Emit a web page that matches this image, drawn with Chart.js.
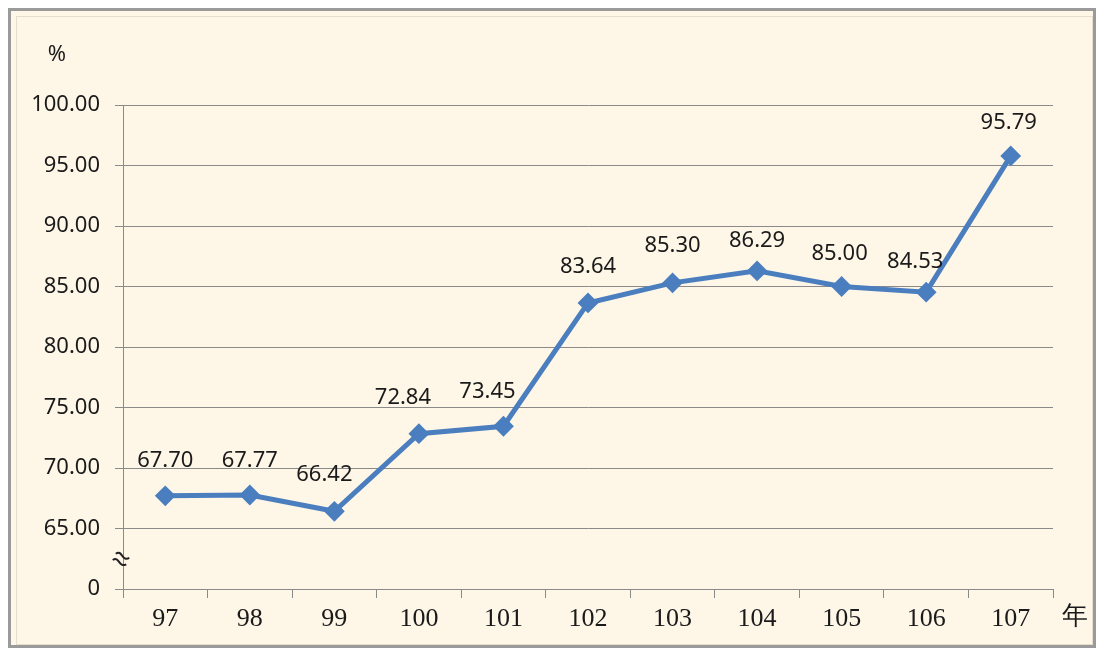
<!DOCTYPE html>
<html>
<head>
<meta charset="utf-8">
<script src="https://cdn.jsdelivr.net/npm/chart.js@4/dist/chart.umd.min.js"></script>
<style>
  body { margin: 0; background: #fff; }
  #chart { display: block; }
</style>
</head>
<body>
<canvas id="chart" width="1100" height="651"></canvas>
<script>
// ==================================== DATA ============================
const years = ['97', '98', '99', '100', '101', '102', '103', '104', '105', '106', '107'];
const rates = [67.70, 67.77, 66.42, 72.84, 73.45, 83.64, 85.30, 86.29, 85.00, 84.53, 95.79];
const yTicks = [60, 65, 70, 75, 80, 85, 90, 95, 100]; // 60 is shown as "0" (axis break)

const LINE_BLUE = '#4a7ebf';
const GRID_GRAY = '#8a8a8a';
const SANS = '"Noto Sans", sans-serif';
const SERIF = '"Liberation Serif", serif';

// small nudges so labels sit where the original ones do
const labelDx = [0, 0, -10, -16, -16, 0, 0, 0, -2, -11, -2];
const labelDy = [-35, -34, -37, -36, -35, -36, -37, -30, -33, -30, -33];

// frame, background, and the extra texts
const decorPlugin = {
    id: 'decor',
    beforeDraw(chart) {
        const ctx = chart.ctx;
        ctx.save();
        ctx.fillStyle = '#ffffff';
        ctx.fillRect(0, 0, chart.width, chart.height);
        ctx.fillStyle = '#fef6e7';
        ctx.fillRect(9, 9, 1085, 638);
        ctx.strokeStyle = '#e6ddcc';
        ctx.lineWidth = 1;
        ctx.strokeRect(16.5, 16.5, 1076, 628);
        ctx.strokeStyle = '#9a9a9a';
        ctx.lineWidth = 3;
        ctx.strokeRect(9.5, 9.5, 1085, 637);
        ctx.restore();
    },
    afterDraw(chart) {
        const ctx = chart.ctx;
        const meta = chart.getDatasetMeta(0);
        ctx.save();
        ctx.fillStyle = '#1a1a1a';
        ctx.textAlign = 'center';
        ctx.textBaseline = 'middle';
        ctx.font = '22px ' + SANS;
        meta.data.forEach((pt, i) => {
            ctx.fillText(rates[i].toFixed(2), pt.x + labelDx[i], pt.y + labelDy[i]);
        });
        // unit labels
        ctx.fillText('%', 57, 55);
        ctx.font = '26px ' + SERIF;
        ctx.fillText('年', 1075, 617);
        // axis break mark: two small waves
        ctx.translate(121, 559);
        ctx.rotate(0.45);
        ctx.strokeStyle = '#222';
        ctx.lineWidth = 2;
        [-3.5, 3.5].forEach(dy => {
            ctx.beginPath();
            ctx.moveTo(-7, dy + 1);
            ctx.bezierCurveTo(-3, dy - 6, 2, dy + 6, 7, dy - 1);
            ctx.stroke();
        });
        ctx.restore();
    }
};

const chartConfig = {
    type: 'line',
    data: {
        labels: years,
        datasets: [{
            data: rates,
            borderColor: LINE_BLUE,
            backgroundColor: LINE_BLUE,
            borderWidth: 5,
            pointStyle: 'rectRot',
            pointRadius: 9,
            pointBorderWidth: 2,
            pointBackgroundColor: LINE_BLUE,
            pointBorderColor: LINE_BLUE,
            fill: false,
            tension: 0
        }]
    },
    options: {
        responsive: false,
        animation: false,
        devicePixelRatio: 1,
        layout: { padding: { left: 0, top: 105, right: 47, bottom: 0 } },
        plugins: {
            legend: { display: false },
            tooltip: { enabled: false }
        },
        scales: {
            x: {
                offset: true,
                grid: {
                    offset: true,
                    drawOnChartArea: false,
                    drawTicks: true,
                    tickLength: 9,
                    color: GRID_GRAY
                },
                border: { display: true, color: GRID_GRAY },
                ticks: {
                    color: '#1a1a1a',
                    font: { family: SERIF, size: 26 },
                    padding: 6,
                    maxRotation: 0
                },
                afterFit(scale) { scale.height = 62; }
            },
            y: {
                min: 60,
                max: 100,
                afterBuildTicks(scale) {
                    scale.ticks = yTicks.map(v => ({ value: v }));
                },
                grid: {
                    color: GRID_GRAY,
                    drawTicks: true,
                    tickLength: 8
                },
                border: { display: true, color: GRID_GRAY },
                ticks: {
                    color: '#1a1a1a',
                    font: { family: SANS, size: 22 },
                    padding: 15,
                    callback: v => (v === 60 ? '0' : v.toFixed(2))
                },
                afterFit(scale) { scale.width = 123; }
            }
        }
    },
    plugins: [decorPlugin]
};

new Chart(document.querySelector('#chart').getContext('2d'), chartConfig);
</script>
</body>
</html>
